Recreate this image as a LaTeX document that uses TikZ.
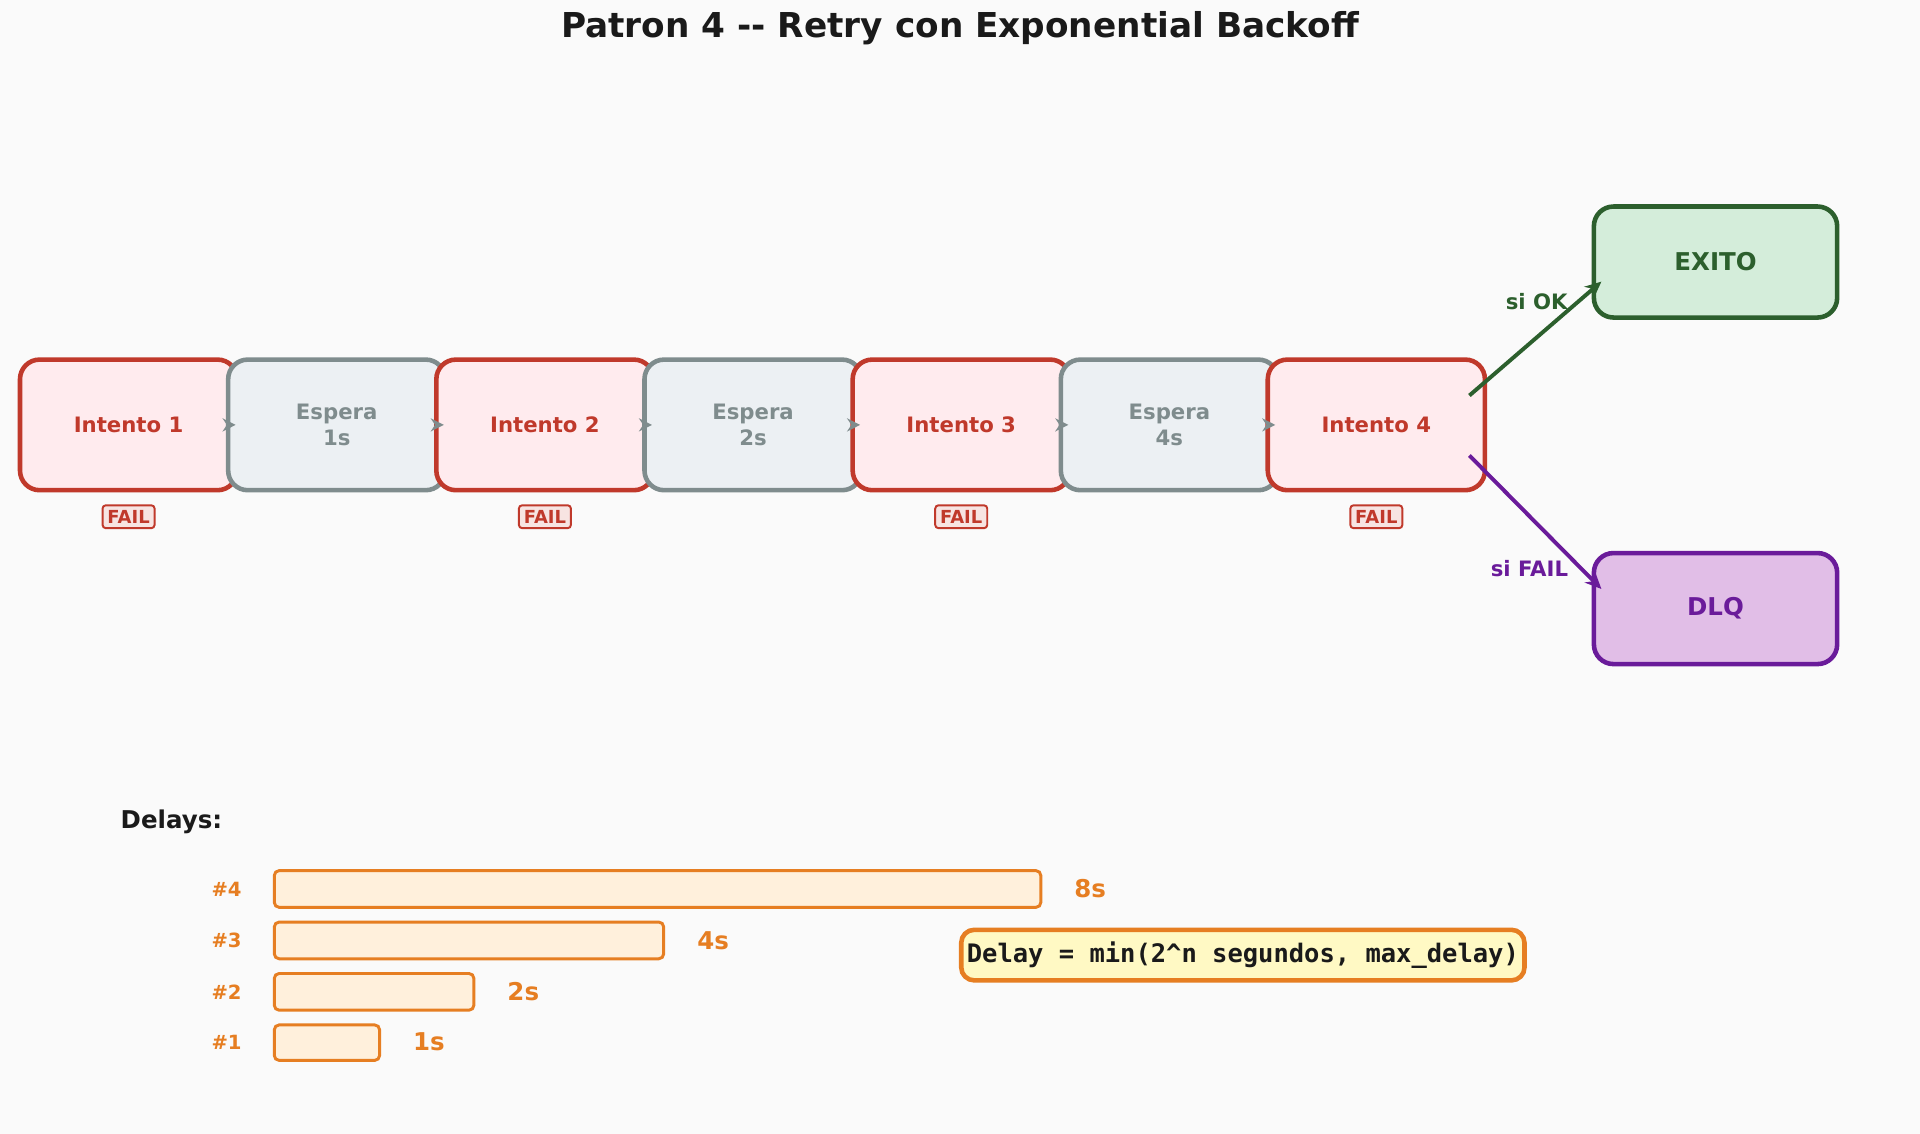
\documentclass[tikz,border=0pt]{standalone}
\usepackage{fontspec}
\setmainfont{DejaVu Sans}
\setmonofont{DejaVu Sans Mono}
\usetikzlibrary{arrows.meta}
\definecolor{bg}{HTML}{FAFAFA}
\definecolor{rd}{HTML}{C0392B}\definecolor{rdf}{HTML}{FFEBEE}
\definecolor{gr}{HTML}{7F8C8D}\definecolor{grf}{HTML}{ECF0F3}
\definecolor{gn}{HTML}{2C5F2D}\definecolor{gnf}{HTML}{D4EDDA}
\definecolor{pu}{HTML}{6A1B9A}\definecolor{puf}{HTML}{E1BEE7}
\definecolor{or}{HTML}{E67E22}\definecolor{orf}{HTML}{FFF0DC}
\definecolor{yf}{HTML}{FFF9C4}\definecolor{tx}{HTML}{1A1A1A}
\begin{document}
\begin{tikzpicture}[x=0.375pt,y=-0.375pt,
 box/.style={rounded corners=6pt,line width=1.4pt,minimum width=66.5pt,minimum height=40pt,font=\bfseries\fontsize{6.5}{8}\selectfont,align=center,inner sep=0pt},
 att/.style={box,draw=rd,fill=rdf,text=rd},
 wt/.style={box,draw=gr,fill=grf,text=gr},
 fail/.style={draw=rd,fill=rdf!60!rd!30,text=rd,font=\bfseries\fontsize{5.5}{6}\selectfont,rounded corners=1pt,inner sep=1.5pt,line width=0.6pt},
 sa/.style={-{Stealth[length=4pt,width=4pt]},gr,line width=1.5pt},
 bar/.style={draw=or,fill=orf,line width=0.9pt,rounded corners=1.5pt},
 bl/.style={text=or,font=\bfseries\fontsize{6}{7}\selectfont},
 vl/.style={text=or,font=\bfseries\fontsize{7.5}{9}\selectfont,anchor=west}]
\useasboundingbox (0,0) rectangle (1568,926);
\fill[bg] (0,0) rectangle (1568,926);
\node[font=\bfseries\fontsize{10.5}{12}\selectfont,text=tx] (title) at (784,23) {Patron 4 -{}- Retry con Exponential Backoff};
\node[att] (i1) at (105,347) {Intento 1};
\node[wt] (w1) at (275,347) {Espera\\1s};
\node[att] (i2) at (445,347) {Intento 2};
\node[wt] (w2) at (615,347) {Espera\\2s};
\node[att] (i3) at (785,347) {Intento 3};
\node[wt] (w3) at (955,347) {Espera\\4s};
\node[att] (i4) at (1124,347) {Intento 4};
\foreach \a/\b in {i1/w1,w1/i2,i2/w2,w2/i3,i3/w3,w3/i4}
  \draw[sa] ([xshift=-3pt]\a.east) -- ([xshift=3pt]\b.west);
\foreach \n/\x in {f1/105,f2/445,f3/785,f4/1124} \node[fail] (\n) at (\x,422) {FAIL};
\node[box,draw=gn,fill=gnf,text=gn,minimum width=74.5pt,minimum height=34pt,font=\bfseries\fontsize{7.5}{9}\selectfont] (ok) at (1401,214) {EXITO};
\node[box,draw=pu,fill=puf,text=pu,minimum width=74.5pt,minimum height=34pt,font=\bfseries\fontsize{7.5}{9}\selectfont] (dlq) at (1401,497) {DLQ};
\coordinate (s1) at (1200,323);\coordinate (s2) at (1200,372);
\draw[-{Stealth[length=5pt,width=4.5pt]},gn,line width=1.2pt] (s1) -- ([shift={(3pt,-6pt)}]ok.west);
\draw[-{Stealth[length=5pt,width=4.5pt]},pu,line width=1.2pt] (s2) -- ([shift={(3pt,6pt)}]dlq.west);
\node[text=gn,font=\bfseries\fontsize{6.5}{7}\selectfont] (lok) at (1255,246) {si OK};
\node[text=pu,font=\bfseries\fontsize{6.5}{7}\selectfont] (lfail) at (1249,464) {si FAIL};
\node[text=tx,font=\bfseries\fontsize{7.5}{9}\selectfont] (dl) at (140,671) {Delays:};
\draw[bar] (224,711) rectangle (850,741); \node[bl] (n4) at (185,726) {\#4}; \node[vl] (v4) at (868,726) {8s};
\draw[bar] (224,753) rectangle (542,783); \node[bl] (n3) at (185,768) {\#3}; \node[vl] (v3) at (560,768) {4s};
\draw[bar] (224,795) rectangle (387,825); \node[bl] (n2) at (185,810) {\#2}; \node[vl] (v2) at (405,810) {2s};
\draw[bar] (224,837) rectangle (310,866); \node[bl] (n1) at (185,851) {\#1}; \node[vl] (v1) at (328,851) {1s};
\node[draw=or,fill=yf,line width=1.4pt,rounded corners=4pt,minimum width=172.5pt,minimum height=15.5pt,inner sep=0pt,font=\ttfamily\bfseries\fontsize{7.8}{9}\selectfont,text=tx] (f) at (1015,780) {Delay = min(2\^{}n segundos, max\_delay)};
\end{tikzpicture}
\end{document}
